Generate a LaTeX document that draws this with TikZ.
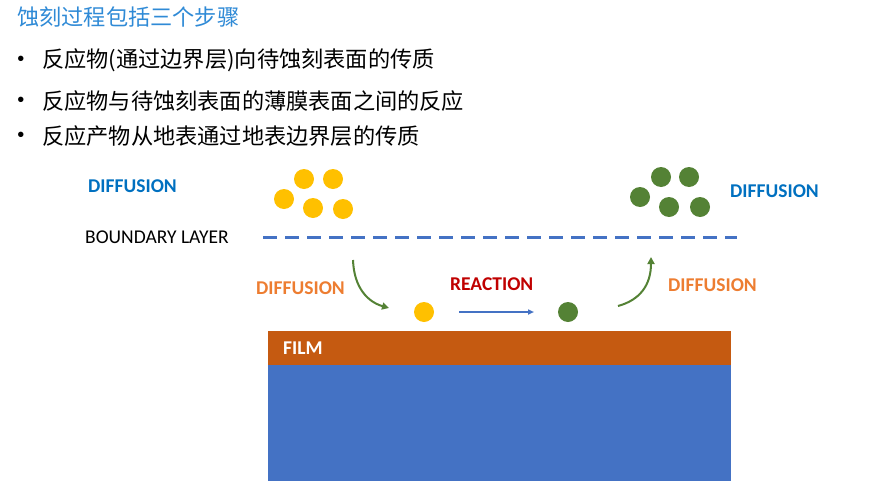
\documentclass[tikz,border=0pt]{standalone}
\usepackage{fontspec}
\setmainfont{Carlito}
\newfontfamily\cjk{Noto Sans CJK SC}
\newfontfamily\bulletfont{Liberation Sans}
\usetikzlibrary{arrows.meta}
\definecolor{ttl}{HTML}{2F8AD6}
\definecolor{dblue}{HTML}{0070C0}
\definecolor{lblue}{HTML}{4472C4}
\definecolor{orng}{HTML}{ED7D31}
\definecolor{dred}{HTML}{C00000}
\definecolor{yel}{HTML}{FFC000}
\definecolor{grn}{HTML}{548235}
\definecolor{film}{HTML}{C55A11}
\tikzset{
  txt/.style={inner sep=0pt, anchor=west},
  cjktxt/.style={txt, font=\cjk\fontsize{22.2}{25}\selectfont},
  bul/.style={inner sep=0pt, font=\bulletfont\fontsize{20}{22}\selectfont},
  lbl/.style={txt, font=\bfseries\fontsize{19.5}{22}\selectfont},
  ydot/.style={circle, fill=yel, minimum size=20pt, inner sep=0pt},
  gdot/.style={circle, fill=grn, minimum size=20pt, inner sep=0pt},
  garrow/.style={draw=grn, line width=2pt, -{Triangle[length=7pt,width=7pt]}},
}
\begin{document}
\begin{tikzpicture}[x=1pt,y=-1pt]
\useasboundingbox (0,0) rectangle (873,490);
% title and bullets
\node[cjktxt, text=ttl] (title) at (17,17) {蚀刻过程包括三个步骤};
\node[bul] (b1) at (21,61) {•};
\node[bul] (b2) at (21,102) {•};
\node[bul] (b3) at (21,137) {•};
\node[cjktxt] (t1) at (42,60) {反应物(通过边界层)向待蚀刻表面的传质};
\node[cjktxt] (t2) at (42,101) {反应物与待蚀刻表面的薄膜表面之间的反应};
\node[cjktxt] (t3) at (42,136) {反应产物从地表通过地表边界层的传质};
% labels
\node[lbl, text=dblue] (dl) at (88,186) {DIFFUSION};
\node[lbl, text=dblue] (dr) at (730,191) {DIFFUSION};
\node[txt, font=\fontsize{19.5}{22}\selectfont] (bl) at (85,237) {BOUNDARY LAYER};
\node[lbl, text=orng] (ol) at (256,288) {DIFFUSION};
\node[lbl, text=orng] (or) at (668,285) {DIFFUSION};
\node[lbl, text=dred] (re) at (450,284) {REACTION};
% boundary layer
\coordinate (bla) at (263,237);
\coordinate (blb) at (737,237);
\draw[lblue, line width=3pt, dash pattern=on 14pt off 8pt] (bla) -- (blb);
% yellow dots
\node[ydot] (y1) at (304,179) {};
\node[ydot] (y2) at (333,179) {};
\node[ydot] (y3) at (284,199) {};
\node[ydot] (y4) at (313,208) {};
\node[ydot] (y5) at (343,209) {};
% green dots
\node[gdot] (g1) at (661,177) {};
\node[gdot] (g2) at (689,177) {};
\node[gdot] (g3) at (640,197) {};
\node[gdot] (g4) at (669,207) {};
\node[gdot] (g5) at (700,207) {};
% surface particles
\node[ydot] (ys) at (424,312) {};
\node[gdot] (gs) at (568,312) {};
% arrows
\coordinate (a1s) at (353,260);
\coordinate (a1e) at (389,308);
\draw[garrow] (a1s) .. controls (354,288) and (368,302) .. (a1e);
\coordinate (a2s) at (618,306);
\coordinate (a2e) at (651,257);
\draw[garrow] (a2s) .. controls (640,300) and (651,285) .. (a2e);
\coordinate (ra) at (459,312);
\coordinate (rb) at (534,312);
\draw[lblue, line width=1.6pt, -{Triangle[length=6pt,width=5pt]}] (ra) -- (rb);
% film and substrate
\fill[lblue] (268,365) rectangle (731,481);
\fill[film] (268,331) rectangle (731,365);
\node[lbl, text=white] (fl) at (283,348) {FILM};
\end{tikzpicture}
\end{document}
